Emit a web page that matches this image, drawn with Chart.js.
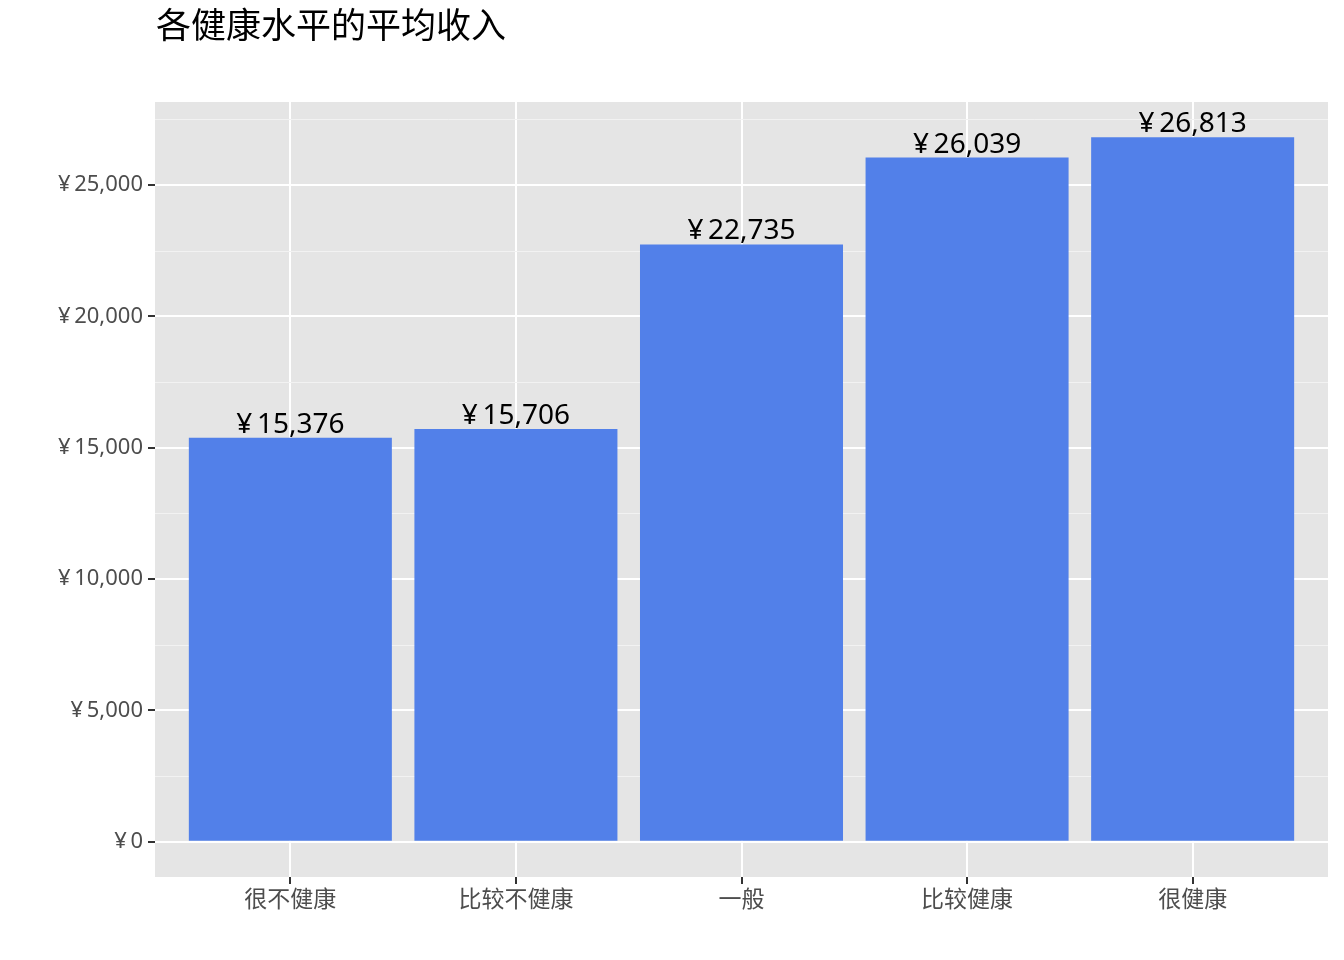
<!DOCTYPE html>
<html>
<head>
<meta charset="utf-8">
<script src="https://cdn.jsdelivr.net/npm/chart.js@4/dist/chart.umd.min.js"></script>
<style>
  html, body { margin: 0; padding: 0; background: #fff; }
  #wrap { width: 1344px; height: 960px; }
</style>
</head>
<body>
<div id="wrap"><canvas id="c" width="1344" height="960"></canvas></div>
<script>
const titulo = '各健康水平的平均收入';
const categorias = ['很不健康', '比较不健康', '一般', '比较健康', '很健康'];
const renda = [15376, 15706, 22735, 26039, 26813];
const yTicks = [0, 5000, 10000, 15000, 20000, 25000];
const yMinor = [2500, 7500, 12500, 17500, 22500, 27500];

const fonte = '"Noto Sans", "Noto Sans CJK SC", sans-serif';
const yen = v => '¥\u2009' + v.toLocaleString('en-US');

const yMax = Math.max(...renda);
const expand = yMax * 0.05;

const painel = {
  id: 'painel',
  beforeDraw(chart) {
    const { ctx, chartArea: a } = chart;
    ctx.save();
    ctx.fillStyle = '#E5E5E5';
    ctx.fillRect(a.left, a.top, a.right - a.left, a.bottom - a.top);
    ctx.fillStyle = '#000';
    ctx.font = '35px ' + fonte;
    ctx.textBaseline = 'middle';
    ctx.textAlign = 'left';
    ctx.fillText(titulo, 156, 28);
    ctx.restore();
  },
  beforeDatasetsDraw(chart) {
    const { ctx, chartArea: a, scales } = chart;
    ctx.save();
    ctx.strokeStyle = '#F2F2F2';
    ctx.lineWidth = 1;
    yMinor.forEach(v => {
      const y = Math.round(scales.y.getPixelForValue(v)) + 0.5;
      ctx.beginPath();
      ctx.moveTo(a.left, y);
      ctx.lineTo(a.right, y);
      ctx.stroke();
    });
    ctx.restore();
  },
  afterDatasetsDraw(chart) {
    const { ctx } = chart;
    const meta = chart.getDatasetMeta(0);
    ctx.save();
    ctx.fillStyle = '#000';
    ctx.font = '28px ' + fonte;
    ctx.textAlign = 'center';
    ctx.textBaseline = 'alphabetic';
    meta.data.forEach((bar, i) => {
      ctx.fillText(yen(renda[i]), bar.x, bar.y - 5);
    });
    ctx.restore();
  }
};

new Chart(document.getElementById('c'), {
  type: 'bar',
  data: {
    datasets: [{
      data: renda.map((v, i) => ({ x: i + 1, y: v })),
      backgroundColor: '#5280E9',
      categoryPercentage: 1,
      barPercentage: 0.9
    }]
  },
  options: {
    responsive: false,
    animation: false,
    layout: { padding: { left: 0, right: 16, top: 102, bottom: 0 } },
    plugins: { legend: { display: false }, tooltip: { enabled: false } },
    scales: {
      x: {
        type: 'linear',
        offset: false,
        min: 0.4,
        max: categorias.length + 0.6,
        afterBuildTicks: s => { s.ticks = categorias.map((_, i) => ({ value: i + 1 })); },
        afterFit: s => { s.height = 83; },
        grid: { offset: false, color: '#FFFFFF', lineWidth: 2, tickColor: '#333333', tickLength: 7, tickWidth: 2 },
        border: { display: false },
        ticks: {
          autoSkip: false,
          maxRotation: 0,
          padding: 3,
          color: '#4D4D4D',
          font: { family: fonte, size: 23 },
          callback: v => categorias[v - 1] ?? ''
        }
      },
      y: {
        min: -expand,
        max: yMax + expand,
        afterBuildTicks: s => { s.ticks = yTicks.map(v => ({ value: v })); },
        afterFit: s => { s.width = 155; },
        grid: { color: '#FFFFFF', lineWidth: 2, tickColor: '#333333', tickLength: 7, tickWidth: 2 },
        border: { display: false },
        ticks: {
          padding: 5,
          color: '#4D4D4D',
          font: { family: fonte, size: 22 },
          callback: v => yen(v)
        }
      }
    }
  },
  plugins: [painel]
});
</script>
</body>
</html>
